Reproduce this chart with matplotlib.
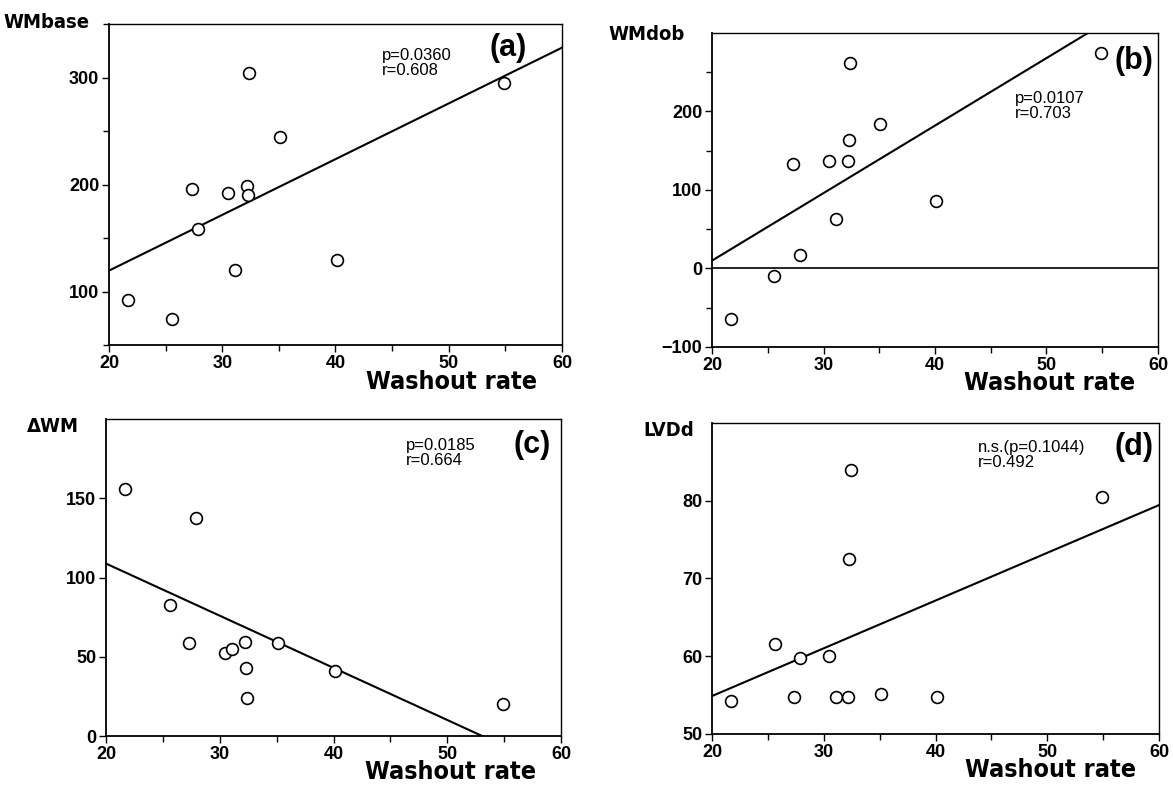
import matplotlib
matplotlib.use('Agg')
import matplotlib.pyplot as plt
import numpy as np

plt.rcParams['font.family'] = ['Liberation Sans', 'DejaVu Sans']

# washout rate of the 12 patients (shared x axis)
washout = [21.7, 25.6, 27.3, 27.9, 30.5, 31.1, 32.2, 32.3, 32.4, 35.1, 40.1, 54.9]

wm_base = [92, 74, 196, 158, 192, 120, 199, 190, 304, 244, 129, 295]
wm_dob = [-65, -10, 133, 17, 137, 63, 137, 164, 262, 184, 86, 275]
delta_wm = [156, 82.5, 59, 137.6, 52.6, 55, 59.6, 43, 24.3, 58.5, 40.8, 20]
lvdd = [54.3, 61.6, 54.8, 59.8, 60.0, 54.7, 54.8, 72.5, 84.0, 55.2, 54.8, 80.5]

# regression lines (slope, intercept)
fit_a = (5.21, 15.3)
fit_b = (8.6, -162.0)
fit_c = (-3.29, 174.6)
fit_d = (0.614, 42.6)

stats_a = 'p=0.0360\nr=0.608'
stats_b = 'p=0.0107\nr=0.703'
stats_c = 'p=0.0185\nr=0.664'
stats_d = 'n.s.(p=0.1044)\nr=0.492'


def panel(ax, y, fit, ylabel, tag, stats, ylim, yticks, yminor,
          stats_pos, tag_pos, ylab_pos, zero_line=False):
    ax.plot(washout, y, 'o', mfc='white', mec='black', ms=8.5, mew=1.2, zorder=3)
    xs = np.array([20, 60])
    ax.plot(xs, fit[0] * xs + fit[1], color='black', lw=1.5, zorder=2)
    if zero_line:
        ax.axhline(0, color='black', lw=1.2)

    ax.set_xlim(20, 60)
    ax.set_ylim(*ylim)
    ax.set_xticks([20, 30, 40, 50, 60])
    ax.set_xticks([25, 35, 45, 55], minor=True)
    ax.set_yticks(yticks)
    ax.set_yticks(yminor, minor=True)
    ax.tick_params(which='both', direction='out', width=1.0)
    ax.tick_params(which='major', length=5, labelsize=13, pad=2)
    ax.tick_params(which='minor', length=4)
    for lab in ax.get_xticklabels() + ax.get_yticklabels():
        lab.set_fontweight('bold')

    ax.spines['left'].set_linewidth(1.3)
    ax.spines['bottom'].set_linewidth(1.3)
    ax.spines['top'].set_linewidth(1.0)
    ax.spines['right'].set_linewidth(1.0)

    ax.text(ylab_pos[0], ylab_pos[1], ylabel, transform=ax.transAxes, ha='right', va='center',
            fontsize=14.5, fontweight='bold', family='DejaVu Sans', fontstretch='condensed')
    ax.text(0.757, -0.115, 'Washout rate', transform=ax.transAxes, ha='center', va='center',
            fontsize=18, fontweight='bold', family='DejaVu Sans', fontstretch='condensed')
    ax.text(tag_pos[0], tag_pos[1], tag, transform=ax.transAxes, ha='center', va='center',
            fontsize=22, fontweight='bold')
    ax.text(stats_pos[0], stats_pos[1], stats, transform=ax.transAxes, ha='left', va='top',
            fontsize=12, linespacing=1.0)


fig = plt.figure(figsize=(11.73, 7.85), dpi=100)
ax_a = fig.add_axes([0.0929, 0.5605, 0.3862, 0.4089])
ax_b = fig.add_axes([0.6070, 0.5580, 0.3802, 0.4000])
ax_c = fig.add_axes([0.0904, 0.0624, 0.3879, 0.4038])
ax_d = fig.add_axes([0.6070, 0.0650, 0.3811, 0.3962])

panel(ax_a, wm_base, fit_a, 'WMbase', '(a)', stats_a, (50, 350), [100, 200, 300],
      [50, 150, 250, 350], (0.603, 0.925), (0.881, 0.925), (-0.042, 1.005))
panel(ax_b, wm_dob, fit_b, 'WMdob', '(b)', stats_b, (-100, 300), [-100, 0, 100, 200],
      [-50, 50, 150, 250], (0.68, 0.815), (0.947, 0.91), (-0.062, 0.995), zero_line=True)
panel(ax_c, delta_wm, fit_c, '\u0394WM', '(c)', stats_c, (0, 200), [0, 50, 100, 150],
      [], (0.659, 0.94), (0.937, 0.919), (-0.059, 0.975))
panel(ax_d, lvdd, fit_d, 'LVDd', '(d)', stats_d, (50, 90), [50, 60, 70, 80],
      [], (0.595, 0.945), (0.945, 0.922), (-0.039, 0.975))

plt.savefig('out.png', dpi=100)
